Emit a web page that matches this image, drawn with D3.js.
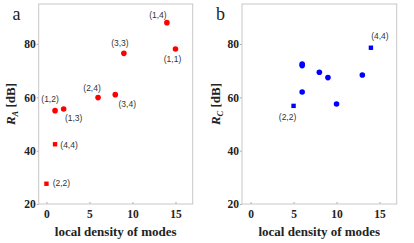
<!DOCTYPE html>
<html>
<head>
<meta charset="utf-8">
<script src="https://cdn.jsdelivr.net/npm/d3@7"></script>
<style>
  body { margin: 0; background: #fff; }
  .frame { fill: none; stroke: #c8c8c8; stroke-width: 1; }
  .tick line { stroke: #aaa; }
  .tick text { font-family: "Liberation Serif", serif; font-weight: bold; font-size: 11.5px; fill: #222; }
  .domain { display: none; }
  .pt-label { font-family: "Liberation Sans", sans-serif; font-size: 8.5px; fill: #333; }
  .ax-label { font-family: "Liberation Serif", serif; font-weight: bold; font-size: 13px; fill: #222; }
  .panel-letter { font-family: "Liberation Serif", serif; font-size: 18px; fill: #222; }
</style>
</head>
<body>
<svg id="chart" width="414" height="243"></svg>
<script>
// panel a : R_A vs local density of modes
const modesA   = ['(1,1)', '(1,2)', '(1,3)', '(1,4)', '(2,2)', '(2,4)', '(3,3)', '(3,4)', '(4,4)'];
const densityA = [15, 1, 2, 14, 0, 6, 9, 8, 1];
const rA       = [78.1, 55.0, 55.6, 88.0, 27.6, 59.9, 76.5, 61.0, 42.4];
const shapeA   = ['circle', 'circle', 'circle', 'circle', 'square', 'circle', 'circle', 'circle', 'square'];

// panel b : R_C vs local density of modes
const modesB   = ['(2,2)', '', '', '', '', '', '', '', '(4,4)'];
const densityB = [5, 6, 6, 6, 8, 9, 10, 13, 14];
const rB       = [56.8, 72.5, 71.9, 62.0, 69.4, 67.4, 57.5, 68.4, 78.6];
const shapeB   = ['square', 'circle', 'circle', 'circle', 'circle', 'circle', 'circle', 'circle', 'square'];

const xTicks = [0, 5, 10, 15];
const yTicks = [20, 40, 60, 80];

// label offsets (px) from the marker, by mode name
const offsetsA = {
  '(1,1)': [-3, 10], '(1,2)': [-5, -12], '(1,3)': [10, 9], '(1,4)': [-9, -8],
  '(2,2)': [15, -1], '(2,4)': [-6, -10], '(3,3)': [-4, -10], '(3,4)': [12, 9], '(4,4)': [14, 1]
};
const offsetsB = { '(2,2)': [-6, 11], '(4,4)': [9, -12] };

const svg = d3.select('#chart');

function drawPanel(opt) {
  const x = d3.scaleLinear().domain(opt.xDomain).range([opt.left, opt.right]);
  const y = d3.scaleLinear().domain([20, 95]).range([204, 4]);
  const g = svg.append('g');

  g.append('g')
    .attr('transform', 'translate(0,204)')
    .call(d3.axisBottom(x).tickValues(xTicks).tickSize(-2).tickPadding(6));
  g.append('g')
    .attr('transform', `translate(${opt.left},0)`)
    .call(d3.axisLeft(y).tickValues(yTicks).tickSize(2).tickPadding(1));

  g.append('rect').attr('class', 'frame')
    .attr('x', opt.left).attr('y', 4)
    .attr('width', opt.right - opt.left).attr('height', 200);

  const data = opt.dens.map((d, i) => ({ d: d, r: opt.vals[i], shape: opt.shapes[i], mode: opt.modes[i] }));

  g.selectAll('circle.pt').data(data.filter(p => p.shape === 'circle')).join('circle')
    .attr('class', 'pt')
    .attr('cx', p => x(p.d)).attr('cy', p => y(p.r)).attr('r', 2.8)
    .attr('fill', opt.color);
  g.selectAll('rect.pt').data(data.filter(p => p.shape === 'square')).join('rect')
    .attr('class', 'pt')
    .attr('x', p => x(p.d) - 2.2).attr('y', p => y(p.r) - 2.2)
    .attr('width', 4.4).attr('height', 4.4)
    .attr('fill', opt.color);

  g.selectAll('text.pt-label').data(data.filter(p => opt.offsets[p.mode])).join('text')
    .attr('class', 'pt-label')
    .attr('x', p => x(p.d) + opt.offsets[p.mode][0])
    .attr('y', p => y(p.r) + opt.offsets[p.mode][1])
    .attr('text-anchor', 'middle').attr('dominant-baseline', 'central')
    .text(p => p.mode);

  g.append('text').attr('class', 'ax-label')
    .attr('x', (opt.left + opt.right) / 2).attr('y', 236)
    .attr('text-anchor', 'middle')
    .text('local density of modes');

  const yl = g.append('text').attr('class', 'ax-label')
    .attr('transform', `translate(${opt.yLabelX},104) rotate(-90)`)
    .attr('text-anchor', 'middle');
  yl.append('tspan').attr('font-style', 'italic').text('R');
  yl.append('tspan').attr('font-style', 'italic').attr('font-size', '8.5px').attr('dy', 3).text(opt.sub);
  yl.append('tspan').attr('dy', -3).text(' [dB]');

  g.append('text').attr('class', 'panel-letter')
    .attr('x', opt.letterX).attr('y', 20)
    .text(opt.letter);
}

drawPanel({ left: 38.7, right: 192.7, xDomain: [-0.9, 17], dens: densityA, vals: rA, shapes: shapeA,
  modes: modesA, offsets: offsetsA, color: '#ff0000', sub: 'A', yLabelX: 15, letter: 'a', letterX: 12.5 });
drawPanel({ left: 242, right: 396.7, xDomain: [-1, 17], dens: densityB, vals: rB, shapes: shapeB,
  modes: modesB, offsets: offsetsB, color: '#0000ff', sub: 'C', yLabelX: 220, letter: 'b', letterX: 216 });
</script>
</body>
</html>
